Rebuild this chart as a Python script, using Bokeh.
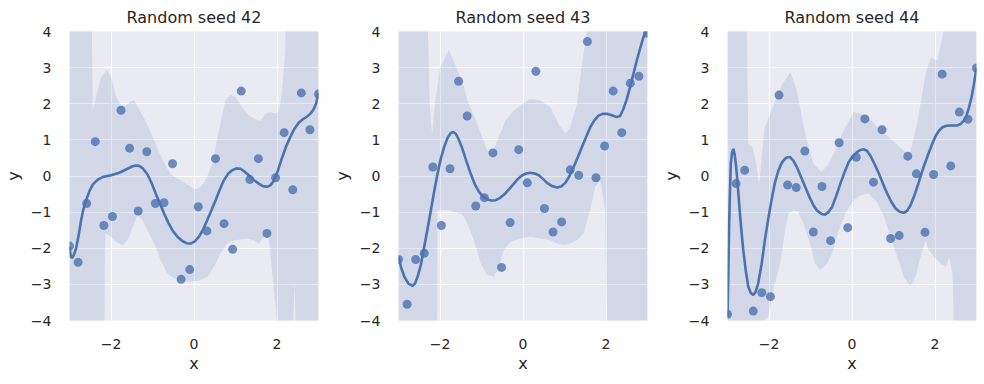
from bokeh.plotting import figure
from bokeh.layouts import row
from bokeh.embed import file_html
from bokeh.resources import INLINE
import numpy as np

# ---------------- data ----------------
titles = ["Random seed 42", "Random seed 43", "Random seed 44"]
x_ticks = [-2, 0, 2]
x_tick_labels = ["\u22122", "0", "2"]
y_ticks = [-4, -3, -2, -1, 0, 1, 2, 3, 4]
y_tick_labels = ["\u22124", "\u22123", "\u22122", "\u22121", "0", "1", "2", "3", "4"]

pts_x = list(np.linspace(-3, 3, 30))

pts_y42 = [-1.94, -2.39, -0.76, 0.95, -1.37, -1.12, 1.82, 0.77, -0.97, 0.67,
           -0.76, -0.74, 0.34, -2.86, -2.59, -0.85, -1.52, 0.48, -1.32, -2.03,
           2.35, -0.10, 0.48, -1.59, -0.05, 1.20, -0.38, 2.30, 1.28, 2.27]
pts_y43 = [-2.31, -3.55, -2.31, -2.14, 0.25, -1.37, 0.20, 2.62, 1.66, -0.83,
           -0.60, 0.64, -2.53, -1.29, 0.73, -0.19, 2.90, -0.90, -1.55, -1.27,
           0.17, 0.02, 3.72, -0.05, 0.83, 2.35, 1.20, 2.57, 2.76, 3.95]
pts_y44 = [-3.83, -0.21, 0.16, -3.74, -3.23, -3.34, 2.24, -0.25, -0.32, 0.69,
           -1.55, -0.29, -1.79, 0.92, -1.43, 0.52, 1.58, -0.17, 1.28, -1.73,
           -1.65, 0.55, 0.06, -1.56, 0.04, 2.82, 0.28, 1.77, 1.57, 2.99]

# fitted curves
fit_x42 = [-3.0, -2.97, -2.94, -2.9, -2.84, -2.78, -2.72, -2.66, -2.6, -2.52, -2.44, -2.32,
           -2.2, -2.0, -1.8, -1.6, -1.48, -1.4, -1.32, -1.24, -1.12, -1.02, -0.92, -0.82,
           -0.72, -0.62, -0.52, -0.4, -0.28, -0.18, -0.08, 0.02, 0.12, 0.22, 0.32, 0.42,
           0.52, 0.62, 0.72, 0.82, 0.92, 1.02, 1.12, 1.22, 1.32, 1.44, 1.56, 1.66, 1.76,
           1.84, 1.92, 2.02, 2.12, 2.22, 2.32, 2.42, 2.52, 2.62, 2.72, 2.8, 2.88, 2.94, 3.0]
fit_y42 = [-1.96, -2.22, -2.27, -2.2, -2.0, -1.65, -1.22, -0.9, -0.67, -0.42, -0.24, -0.1,
           -0.03, 0.02, 0.09, 0.2, 0.27, 0.29, 0.28, 0.22, 0.04, -0.2, -0.49, -0.77,
           -1.04, -1.29, -1.5, -1.68, -1.8, -1.86, -1.87, -1.81, -1.68, -1.48, -1.22, -0.95,
           -0.67, -0.38, -0.12, 0.06, 0.16, 0.21, 0.2, 0.12, 0.02, -0.11, -0.21, -0.28, -0.3,
           -0.26, -0.14, 0.14, 0.5, 0.82, 1.08, 1.31, 1.47, 1.57, 1.64, 1.72, 1.84, 2.0, 2.3]
fit_x43 = [-3.0, -2.93, -2.86, -2.76, -2.66, -2.6, -2.54, -2.46, -2.38, -2.3, -2.22, -2.14,
           -2.06, -1.98, -1.9, -1.82, -1.74, -1.68, -1.62, -1.54, -1.46, -1.36, -1.26, -1.16,
           -1.06, -0.96, -0.86, -0.76, -0.66, -0.56, -0.46, -0.34, -0.22, -0.12, -0.02,
           0.08, 0.18, 0.28, 0.38, 0.48, 0.58, 0.7, 0.82, 0.92, 1.02, 1.12, 1.22, 1.32,
           1.42, 1.52, 1.62, 1.72, 1.82, 1.92, 2.02, 2.14, 2.26, 2.34, 2.42, 2.5, 2.58,
           2.66, 2.74, 2.82, 2.9, 2.96, 3.0]
fit_y43 = [-2.24, -2.56, -2.79, -2.98, -3.04, -2.97, -2.79, -2.45, -1.96, -1.46, -0.95, -0.43,
           0.06, 0.48, 0.8, 1.05, 1.19, 1.22, 1.17, 0.99, 0.75, 0.4, 0.06, -0.23,
           -0.44, -0.58, -0.65, -0.68, -0.67, -0.61, -0.52, -0.37, -0.21, -0.08, 0.02,
           0.07, 0.09, 0.07, 0.02, -0.08, -0.19, -0.28, -0.32, -0.29, -0.19, 0.0, 0.25, 0.52,
           0.8, 1.08, 1.35, 1.54, 1.67, 1.72, 1.72, 1.68, 1.63, 1.66, 1.86, 2.12, 2.46,
           2.82, 3.19, 3.52, 3.84, 4.0, 4.1]
fit_x44 = [-3.0, -2.98, -2.96, -2.94, -2.92, -2.89, -2.86, -2.83, -2.8, -2.76, -2.72,
           -2.67, -2.62, -2.56, -2.5, -2.44, -2.38, -2.32, -2.26, -2.18, -2.1, -2.02,
           -1.94, -1.86, -1.77, -1.69, -1.61, -1.55, -1.49, -1.41, -1.33, -1.23, -1.13,
           -1.03, -0.93, -0.85, -0.77, -0.71, -0.65, -0.57, -0.48, -0.38, -0.28, -0.18,
           -0.08, 0.02, 0.12, 0.2, 0.28, 0.36, 0.44, 0.54, 0.65, 0.75, 0.85, 0.95, 1.05,
           1.15, 1.25, 1.33, 1.41, 1.51, 1.61, 1.71, 1.81, 1.92, 2.02, 2.1, 2.18, 2.28,
           2.38, 2.46, 2.54, 2.62, 2.7, 2.76, 2.82, 2.88, 2.94, 2.98, 3.0]
fit_y44 = [-3.9, -2.7, -1.31, -0.4, 0.34, 0.65, 0.75, 0.62, 0.34, -0.15, -0.76,
           -1.45, -2.05, -2.62, -3.06, -3.24, -3.29, -3.2, -2.97, -2.45, -1.78, -1.2,
           -0.67, -0.2, 0.16, 0.37, 0.48, 0.52, 0.52, 0.42, 0.25, -0.02, -0.3,
           -0.57, -0.81, -0.95, -1.02, -1.06, -1.07, -1.0, -0.86, -0.55, -0.21, 0.1,
           0.39, 0.55, 0.66, 0.72, 0.74, 0.7, 0.57, 0.34, 0.06, -0.22, -0.49, -0.72, -0.9,
           -0.99, -1.02, -0.96, -0.81, -0.52, -0.17, 0.2, 0.52, 0.85, 1.12, 1.26, 1.35, 1.39,
           1.4, 1.4, 1.4, 1.44, 1.54, 1.67, 1.9, 2.18, 2.55, 2.85, 3.0]

# confidence bands: upper and lower edges (values beyond the axes mark "off the chart")
up_x42 = [-3.0, -2.47, -2.44, -2.36, -2.24, -2.1, -2.0, -1.88, -1.76, -1.64, -1.52, -1.44,
          -1.32, -1.16, -1.0, -0.84, -0.68, -0.56, -0.4, -0.24, -0.08, 0.04, 0.16, 0.28,
          0.44, 0.6, 0.76, 0.88, 1.0, 1.16, 1.32, 1.48, 1.6, 1.72, 1.84, 1.96, 2.04,
          2.12, 2.2, 2.22, 3.0]
up_y42 = [5, 5, 1.8, 2.2, 2.73, 2.94, 2.75, 2.2, 1.95, 1.95, 2.06, 2.09,
          1.85, 1.5, 1.1, 0.65, 0.28, 0.05, -0.07, -0.17, -0.3, -0.37, -0.3, -0.12,
          0.34, 1.26, 2.09, 2.25, 2.18, 1.9, 1.67, 1.58, 1.52, 1.72, 1.77, 1.72, 1.79,
          2.3, 3.5, 5, 5]
lo_x42 = [-3.0, -2.16, -2.14, -2.04, -1.88, -1.72, -1.6, -1.48, -1.36, -1.24, -1.12,
          -0.96, -0.8, -0.64, -0.48, -0.28, -0.04, 0.16, 0.32, 0.48, 0.64, 0.8, 0.96,
          1.12, 1.28, 1.44, 1.56, 1.68, 1.8, 1.9, 2.0, 2.02, 2.35, 2.43, 2.46, 3.0]
lo_y42 = [-5, -5, -1.6, -1.64, -1.82, -1.91, -1.78, -1.41, -1.09, -1.22, -1.5,
          -1.87, -2.33, -2.7, -2.83, -2.9, -2.93, -2.88, -2.79, -2.51, -2.14, -1.87, -1.78,
          -1.76, -1.73, -1.78, -1.87, -1.68, -1.73, -2.85, -4.0, -5, -5, -2.93, -5, -5]

up_x43 = [-3.0, -2.31, -2.25, -2.19, -2.12, -2.0, -1.79, -1.6, -1.43, -1.34, -1.1,
          -0.86, -0.74, -0.62, -0.42, -0.22, -0.02, 0.18, 0.42, 0.66, 0.86, 1.02,
          1.14, 1.3, 1.42, 1.54, 1.56, 3.0]
up_y43 = [5, 5, 2.0, 1.15, 2.0, 3.0, 3.49, 3.0, 2.5, 2.08, 1.44,
          0.7, 0.62, 0.98, 1.54, 1.81, 1.99, 2.13, 2.09, 1.9, 1.44, 1.17,
          1.35, 1.99, 3.1, 4.0, 5, 5]
lo_x43 = [-3.0, -2.07, -2.06, -1.78, -1.58, -1.46, -1.34, -1.18, -1.02, -0.86, -0.7,
          -0.58, -0.46, -0.3, -0.06, 0.18, 0.42, 0.66, 0.82, 0.98, 1.14, 1.3, 1.46,
          1.62, 1.74, 1.86, 1.98, 2.03, 3.0]
lo_y43 = [-5, -5, -0.95, -0.95, -1.02, -1.06, -1.32, -1.78, -2.42, -2.74, -2.79,
          -2.51, -2.05, -1.82, -1.73, -1.68, -1.73, -1.78, -1.87, -1.91, -1.87, -1.78, -1.59,
          -0.95, -0.3, -0.12, -0.95, -5, -5]

up_x44 = [-3.0, -2.54, -2.5, -2.4, -2.3, -2.24, -2.11, -1.88, -1.68, -1.48, -1.33,
          -1.13, -0.93, -0.73, -0.56, -0.36, -0.2, 0.04, 0.36, 0.69, 0.93, 1.25, 1.37,
          1.57, 1.77, 1.9, 2.06, 2.2, 2.22, 3.0]
up_y44 = [5, 5, 0.89, 0.8, 0.3, -0.26, 1.3, 2.0, 2.55, 2.87, 2.36,
          1.17, 0.34, 0.11, 0.34, 0.8, 1.26, 1.77, 1.67, 1.26, 1.03, 0.7, 0.52,
          1.44, 2.82, 3.28, 3.19, 4.0, 5, 5]
lo_x44 = [-3.0, -2.02, -1.9, -1.73, -1.61, -1.53, -1.41, -1.29, -1.17, -1.01, -0.89,
          -0.77, -0.6, -0.48, -0.32, -0.12, 0.04, 0.2, 0.4, 0.6, 0.77, 0.93, 1.09,
          1.25, 1.41, 1.53, 1.65, 1.77, 1.85, 1.98, 2.14, 2.26, 2.34, 2.42, 2.48, 3.0]
lo_y44 = [-5, -3.89, -3.16, -2.42, -1.5, -1.04, -0.95, -0.99, -1.32, -1.87, -2.42,
          -2.6, -2.42, -2.14, -1.5, -0.95, -0.67, -0.53, -0.49, -0.72, -1.13, -1.68, -2.24,
          -2.79, -3.06, -2.79, -2.24, -1.78, -2.05, -2.24, -2.42, -2.51, -2.24, -2.7, -5, -5]

panels = [
    (pts_y42, fit_x42, fit_y42, up_x42, up_y42, lo_x42, lo_y42),
    (pts_y43, fit_x43, fit_y43, up_x43, up_y43, lo_x43, lo_y43),
    (pts_y44, fit_x44, fit_y44, up_x44, up_y44, lo_x44, lo_y44),
]

# ---------------- style ----------------
BLUE = "#4C72B0"
BG = "#EAEAF2"
TXT = "#262626"
FONT = "DejaVu Sans"

borders = [(62, 11), (62, 11), (62, 2)]

figs = []
for i, (title, data) in enumerate(zip(titles, panels)):
    py, fx, fy, ux, uy, lx, ly = data
    bl, br = borders[i]
    p = figure(frame_width=249, frame_height=289, x_range=(-3, 3), y_range=(-4, 4),
               output_backend="svg", toolbar_location=None, title=title,
               min_border_left=bl, min_border_right=br, min_border_top=25,
               min_border_bottom=10)
    p.background_fill_color = BG
    p.border_fill_color = "white"
    p.outline_line_color = None

    p.title.text_font = FONT
    p.title.text_font_size = "16px"
    p.title.text_font_style = "normal"
    p.title.text_color = TXT
    p.title.align = "center"

    for ax, ticks, labels, lab in ((p.xaxis[0], x_ticks, x_tick_labels, "x"),
                                   (p.yaxis[0], y_ticks, y_tick_labels, "y")):
        ax.ticker = ticks
        ax.major_label_overrides = {t: l for t, l in zip(ticks, labels)}
        ax.axis_line_color = None
        ax.major_tick_line_color = None
        ax.minor_tick_line_color = None
        ax.major_label_text_font = FONT
        ax.major_label_text_font_size = "14px"
        ax.major_label_text_color = TXT
        ax.axis_label = lab
        ax.axis_label_text_font = FONT
        ax.axis_label_text_font_size = "16px"
        ax.axis_label_text_font_style = "normal"
        ax.axis_label_text_color = TXT
    p.xaxis.major_label_standoff = 12
    p.yaxis.major_label_standoff = 12
    p.xaxis.axis_label_standoff = 2
    p.yaxis.axis_label_standoff = 5

    p.xgrid.ticker = x_ticks
    p.ygrid.ticker = y_ticks
    p.grid.grid_line_color = "white"
    p.grid.grid_line_width = 1

    band_x = list(ux) + list(lx)[::-1]
    band_y = list(uy) + list(ly)[::-1]
    p.patch(band_x, band_y, fill_color=BLUE, fill_alpha=0.15, line_color=None)
    p.scatter(pts_x, py, size=9, fill_color=BLUE, fill_alpha=0.8, line_color=None)
    p.line(fx, fy, line_color=BLUE, line_width=2.6)
    figs.append(p)

layout = row(*figs)
open("out.html", "w").write(file_html(layout, INLINE))
